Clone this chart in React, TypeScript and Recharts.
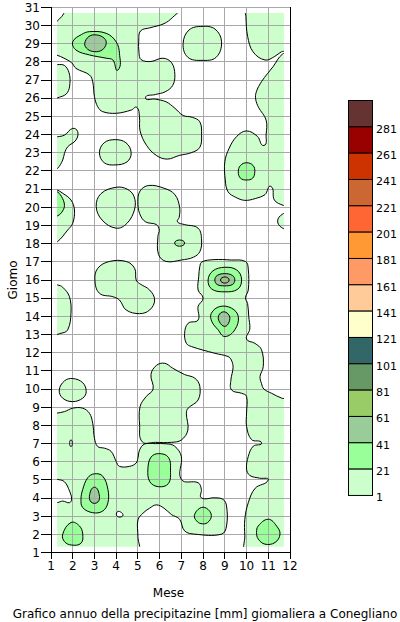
import React from 'react';
import { ScatterChart, Scatter, XAxis, YAxis, CartesianGrid, ReferenceArea, Legend } from 'recharts';

type Pt = [number, number];

// ---------- axes ----------
const MONTH_TICKS = [1, 2, 3, 4, 5, 6, 7, 8, 9, 10, 11, 12];
const DAY_TICKS = [1, 2, 3, 4, 5, 6, 7, 8, 9, 10, 11, 12, 13, 14, 15, 16, 17, 18, 19, 20, 21, 22, 23, 24, 25, 26, 27, 28, 29, 30, 31];
const RIGHT_TICKS = [5, 10, 15, 20, 25, 30];
const TOP_TICKS = [5, 10];

// ---------- colour scale (legend, top to bottom) ----------
const LEGEND_LEVELS = [281, 261, 241, 221, 201, 181, 161, 141, 121, 101, 81, 61, 41, 21, 1];
const LEGEND_COLORS = ['#663333', '#990000', '#cc3300', '#cc6633', '#ff6633', '#ff9933', '#ff9966', '#ffcc99', '#ffffcc', '#336666', '#669966', '#99cc66', '#99cc99', '#99ff99', '#ccffcc'];

// extent of the interpolated grid (month, day)
const GRID_MONTHS: [number, number] = [1.28, 11.72];
const GRID_DAYS: [number, number] = [1.33, 30.68];

// ---------- contour lines (month, day) ----------
const CONTOURS_1: Pt[][] = [
  [[1.1, 29.95], [1.5, 30.5], [1.85, 31.0], [4.0, 31.0], [6.95, 31.0], [6.6, 30.45], [6.2, 30.1], [5.55, 29.87], [5.12, 29.7], [5.04, 29.2], [5.05, 28.5], [5.15, 28.12], [5.6, 28.02], [6.15, 28.2], [6.55, 27.95], [6.7, 27.3], [6.6, 26.7], [6.25, 26.35], [5.8, 26.2], [5.35, 26.02], [5.8, 25.95], [6.3, 25.8], [6.7, 25.45], [7.08, 25.05], [7.5, 24.95], [7.85, 24.7], [7.93, 24.0], [7.85, 23.3], [7.45, 23.0], [6.9, 22.85], [6.35, 22.65], [5.85, 22.85], [5.4, 23.4], [5.1, 24.2], [5.07, 25.0], [4.95, 25.5], [4.7, 25.35], [4.0, 25.17], [3.38, 25.26], [3.15, 25.53], [3.0, 26.08], [2.92, 26.9], [2.77, 27.28], [2.15, 27.64], [1.95, 27.95], [1.6, 28.2], [1.26, 28.37], [1.0, 28.4], [1.0, 29.2]],
  [[1.0, 27.85], [1.3, 27.85], [1.62, 27.8], [1.83, 27.4], [1.87, 26.8], [1.75, 26.3], [1.45, 26.08], [1.0, 26.05]],
  [[7.95, 29.95], [8.55, 29.8], [8.85, 29.1], [8.6, 28.25], [7.95, 28.08], [7.3, 28.25], [7.08, 29.0], [7.35, 29.75]],
  [[11.0, 31.0], [9.98, 31.0], [9.97, 30.5], [10.05, 29.4], [10.3, 28.55], [10.85, 28.1], [11.3, 28.3], [11.6, 28.55], [12.0, 28.7], [12.0, 31.0]],
  [[12.0, 28.45], [11.65, 28.42], [11.23, 27.75], [10.7, 26.93], [10.45, 26.35], [10.42, 25.95], [10.55, 25.5], [10.9, 24.8], [10.9, 24.0], [10.8, 23.4], [10.5, 23.9], [10.0, 24.2], [9.55, 23.9], [9.2, 23.25], [9.0, 22.5], [9.02, 21.5], [9.15, 20.85], [9.5, 20.55], [9.92, 20.38], [10.4, 20.48], [10.85, 20.7], [11.12, 21.15], [11.28, 20.4], [11.7, 20.1], [12.0, 20.05]],
  [[12.0, 19.7], [11.65, 19.62], [11.43, 19.25], [11.62, 18.88], [12.0, 18.82]],
  [[1.0, 23.85], [1.3, 23.88], [1.62, 23.97], [2.0, 24.34], [2.23, 24.16], [2.15, 23.7], [1.77, 23.33], [1.62, 22.97], [1.54, 22.6], [1.3, 22.14], [1.0, 21.95]],
  [[1.0, 21.0], [1.25, 20.97], [1.54, 20.77], [1.92, 20.4], [2.08, 19.85], [2.0, 19.12], [1.77, 18.75], [1.3, 18.11], [1.0, 18.0]],
  [[3.95, 23.72], [4.45, 23.55], [4.69, 23.0], [4.5, 22.5], [3.95, 22.33], [3.45, 22.45], [3.23, 23.0], [3.45, 23.55]],
  [[4.0, 21.1], [4.5, 21.0], [4.82, 20.6], [4.85, 19.9], [4.5, 19.12], [4.0, 18.85], [3.35, 19.3], [3.08, 20.05], [3.3, 20.75]],
  [[5.5, 21.2], [6.2, 21.05], [6.7, 20.7], [6.92, 20.0], [6.9, 19.45], [6.82, 19.2], [7.15, 19.05], [7.77, 18.85], [7.93, 18.2], [7.85, 17.56], [7.55, 17.25], [7.0, 17.1], [6.3, 17.02], [5.95, 17.4], [5.92, 18.4], [5.98, 18.75], [5.85, 19.05], [5.35, 19.2], [5.08, 19.65], [5.0, 20.3], [5.1, 20.9]],
  [[3.02, 16.0], [3.15, 16.64], [3.69, 17.02], [4.46, 17.02], [4.85, 16.64], [4.92, 16.0], [5.08, 15.8], [5.54, 15.45], [5.77, 14.9], [5.54, 14.35], [5.08, 14.15], [4.46, 14.35], [4.15, 14.9], [3.85, 15.08], [3.23, 15.27]],
  [[1.0, 15.75], [1.3, 15.73], [1.54, 15.6], [1.85, 15.08], [1.92, 14.17], [1.77, 13.26], [1.46, 13.07], [1.0, 13.05]],
  [[7.85, 16.75], [7.95, 17.0], [8.5, 17.12], [9.3, 17.1], [9.95, 17.02], [10.08, 16.6], [10.08, 15.45], [9.95, 15.02], [10.05, 14.7], [10.1, 14.0], [10.15, 13.3], [10.0, 12.75], [10.38, 12.52], [10.69, 12.16], [10.77, 11.24], [10.62, 10.69], [10.69, 10.3], [10.8, 10.0], [11.15, 9.77], [11.62, 9.5], [12.0, 9.4], [12.0, 1.0], [10.0, 1.0], [9.92, 1.93], [9.92, 2.84], [10.08, 3.75], [10.4, 4.55], [11.0, 5.0], [10.6, 5.1], [10.15, 5.25], [10.0, 5.6], [10.08, 6.3], [10.31, 6.86], [10.69, 7.04], [10.23, 7.22], [10.0, 7.95], [10.0, 8.68], [10.0, 9.6], [9.77, 9.77], [9.31, 9.95], [9.28, 10.5], [9.38, 11.2], [9.3, 11.6], [9.15, 11.79], [8.54, 11.97], [7.46, 12.34], [7.23, 12.52], [7.15, 13.07], [7.31, 13.62], [7.77, 13.8], [7.77, 14.54], [8.0, 15.0], [7.77, 15.45], [7.8, 16.2]],
  [[1.38, 9.95], [1.62, 10.45], [2.0, 10.58], [2.46, 10.35], [2.62, 9.86], [2.46, 9.5], [2.0, 9.31], [1.54, 9.5]],
  [[5.2, 7.1], [5.08, 8.0], [5.1, 9.04], [5.38, 9.59], [5.7, 10.0], [5.6, 10.8], [5.85, 11.3], [6.23, 11.42], [6.6, 11.15], [7.15, 10.8], [7.62, 10.6], [7.85, 10.15], [7.77, 9.4], [7.31, 8.95], [7.23, 8.67], [7.3, 7.75], [7.0, 7.2], [6.54, 7.07], [5.8, 7.07]],
  [[1.0, 1.0], [1.0, 3.78], [1.3, 3.76], [1.54, 3.84], [1.85, 3.75], [1.95, 3.95], [1.85, 4.4], [1.62, 4.9], [1.3, 5.03], [1.0, 5.05], [1.0, 8.65], [1.23, 8.67], [1.62, 8.76], [2.0, 8.95], [2.46, 8.95], [2.77, 8.67], [2.92, 8.12], [3.0, 7.3], [3.15, 6.84], [3.46, 6.75], [3.77, 6.57], [4.0, 6.02], [4.15, 5.75], [4.62, 5.75], [4.92, 5.93], [5.0, 6.2], [5.08, 6.66], [5.31, 6.98], [5.8, 7.0], [6.3, 6.99], [6.69, 6.86], [7.0, 6.29], [7.0, 5.03], [7.77, 4.85], [7.92, 4.48], [7.92, 4.02], [8.54, 4.02], [8.92, 3.93], [9.08, 3.57], [9.08, 2.47], [8.85, 2.02], [7.62, 2.02], [7.15, 2.2], [6.92, 2.84], [6.54, 3.1], [6.2, 3.45], [5.85, 3.63], [5.54, 3.45], [5.23, 3.17], [5.0, 2.8], [5.0, 1.89], [4.97, 1.0]],
];

// dry islands inside the 1 mm area
const HOLES: Pt[][] = [
  [[1.92, 7.2], [1.98, 7.02], [1.92, 6.84], [1.86, 7.02]],
  [[4.05, 3.25], [4.25, 3.2], [4.3, 3.02], [4.05, 3.0]],
];

const CONTOURS_21: Pt[][] = [
  [[2.0, 29.1], [2.4, 29.5], [2.77, 29.66], [3.54, 29.57], [4.0, 29.1], [4.15, 28.47], [4.08, 27.55], [3.85, 28.1], [3.54, 28.2], [2.77, 28.38], [2.15, 28.65]],
  [[10.0, 22.45], [10.3, 22.3], [10.38, 21.95], [10.28, 21.6], [10.0, 21.5], [9.72, 21.6], [9.62, 21.95], [9.72, 22.3]],
  [[1.0, 20.9], [1.25, 20.88], [1.48, 20.6], [1.62, 20.1], [1.48, 19.7], [1.25, 19.5], [1.0, 19.45]],
  [[6.92, 18.2], [7.15, 18.03], [6.92, 17.86], [6.69, 18.03]],
  [[9.0, 16.7], [9.55, 16.55], [9.77, 16.05], [9.6, 15.5], [9.0, 15.35], [8.4, 15.5], [8.23, 16.0], [8.45, 16.5]],
  [[8.38, 14.17], [8.77, 14.54], [9.31, 14.45], [9.62, 13.99], [9.46, 13.26], [9.0, 12.89], [8.69, 13.26], [8.4, 13.72]],
  [[2.46, 4.48], [2.69, 5.12], [3.0, 5.34], [3.38, 5.21], [3.62, 4.48], [3.62, 3.75], [3.38, 3.29], [2.92, 3.2], [2.46, 3.48], [2.38, 3.93]],
  [[5.46, 5.6], [5.6, 6.25], [5.95, 6.45], [6.4, 6.25], [6.5, 5.5], [6.4, 4.8], [5.95, 4.63], [5.55, 4.9]],
  [[1.54, 2.02], [1.92, 2.66], [2.31, 2.47], [2.46, 2.02], [2.38, 1.52], [1.95, 1.42], [1.62, 1.61]],
  [[7.6, 3.05], [7.85, 3.45], [8.15, 3.45], [8.38, 3.05], [8.2, 2.65], [7.9, 2.6], [7.7, 2.75]],
  [[10.54, 2.47], [11.0, 2.84], [11.38, 2.47], [11.54, 2.02], [11.31, 1.56], [10.85, 1.47], [10.54, 1.75], [10.46, 2.11]],
];

const CONTOURS_41: Pt[][] = [
  [[2.55, 29.0], [2.75, 29.4], [3.1, 29.48], [3.45, 29.3], [3.54, 29.0], [3.35, 28.65], [3.0, 28.56], [2.68, 28.7]],
  [[9.0, 16.35], [9.35, 16.25], [9.46, 16.0], [9.35, 15.75], [9.0, 15.68], [8.65, 15.75], [8.54, 16.0], [8.65, 16.25]],
  [[8.95, 14.25], [9.2, 14.05], [9.2, 13.7], [9.0, 13.45], [8.75, 13.7], [8.72, 14.05]],
  [[3.0, 4.6], [3.22, 4.2], [3.15, 3.78], [2.85, 3.78], [2.78, 4.2]],
];

const CONTOURS_61: Pt[][] = [
  [[9.0, 16.17], [9.2, 16.0], [9.0, 15.83], [8.8, 16.0]],
];

const FONT = '"DejaVu Sans", Verdana, sans-serif';
const CLIP_ID = 'contour-grid-clip';

function closedSpline(pts: { x: number; y: number }[]): string {
  const n = pts.length;
  if (n < 3) return '';
  const tan = pts.map((_, i) => {
    const a = pts[(i - 1 + n) % n];
    const b = pts[(i + 1) % n];
    const dx = b.x - a.x;
    const dy = b.y - a.y;
    const len = Math.hypot(dx, dy) || 1;
    return { x: dx / len, y: dy / len };
  });
  const f = (v: number) => v.toFixed(2);
  let d = `M${f(pts[0].x)},${f(pts[0].y)}`;
  for (let i = 0; i < n; i++) {
    const p1 = pts[i];
    const p2 = pts[(i + 1) % n];
    const s = Math.hypot(p2.x - p1.x, p2.y - p1.y) * 0.36;
    const t1 = tan[i];
    const t2 = tan[(i + 1) % n];
    d += ` C${f(p1.x + t1.x * s)},${f(p1.y + t1.y * s)} ${f(p2.x - t2.x * s)},${f(p2.y - t2.y * s)} ${f(p2.x)},${f(p2.y)}`;
  }
  return d + 'Z';
}

const toRows = (poly: Pt[]) => poly.map(([m, d]) => ({ m, d }));
const noPoint = () => <g />;

const fillLine = (color: string) => (props: any) => (
  <path d={closedSpline(props.points || [])} fill={color} stroke="none" clipPath={`url(#${CLIP_ID})`} />
);
const outlineLine = (props: any) => (
  <path d={closedSpline(props.points || [])} fill="none" stroke="#000" strokeWidth={1} clipPath={`url(#${CLIP_ID})`} />
);

const LAYERS: { polys: Pt[][]; color: string }[] = [
  { polys: CONTOURS_1, color: LEGEND_COLORS[14] },
  { polys: HOLES, color: '#ffffff' },
  { polys: CONTOURS_21, color: LEGEND_COLORS[13] },
  { polys: CONTOURS_41, color: LEGEND_COLORS[12] },
  { polys: CONTOURS_61, color: LEGEND_COLORS[11] },
];

const ColorBar = () => {
  const boxH = 26.33;
  return (
    <svg width={60} height={420} style={{ display: 'block', fontFamily: FONT }}>
      {LEGEND_COLORS.map((c, i) => (
        <rect key={c} x={8.5} y={5.5 + i * boxH} width={24} height={boxH} fill={c} stroke="#000" strokeWidth={1} />
      ))}
      {LEGEND_LEVELS.map((v, i) => (
        <text key={v} x={36} y={5.5 + (i + 1) * boxH + 6} fontSize={11} fill="#000">
          {v}
        </text>
      ))}
    </svg>
  );
};

const xLabel = (props: any) => {
  const vb = props.viewBox || { x: 51, y: 552.7, width: 239, height: 30 };
  return (
    <g style={{ fontFamily: FONT }}>
      <text x={vb.x + vb.width / 2 - 2} y={vb.y + 44} textAnchor="middle" fontSize={12} fill="#000">Mese</text>
      <text x={205} y={618} textAnchor="middle" fontSize={12} fill="#000">Grafico annuo della precipitazine [mm] giomaliera a Conegliano</text>
    </g>
  );
};

const yLabel = (props: any) => {
  const vb = props.viewBox || { x: 0, y: 7.3, width: 51, height: 545.4 };
  const cx = 13;
  const cy = vb.y + vb.height / 2;
  return (
    <text x={cx} y={cy} transform={`rotate(-90 ${cx} ${cy})`} textAnchor="middle" dominantBaseline="central" fontSize={12} fill="#000" style={{ fontFamily: FONT }}>
      Giomo
    </text>
  );
};

export default function App() {
  return (
    <div style={{ position: 'absolute', left: 0, top: 0, width: 400, height: 622, fontFamily: FONT, background: '#fff' }}>
      <style>{`.recharts-cartesian-grid line, .recharts-cartesian-axis-line, .recharts-cartesian-axis-tick-line { shape-rendering: crispEdges; }`}</style>
      <ScatterChart width={400} height={622} margin={{ top: 7.3, right: 100, bottom: 39.3, left: 0 }}>
        <ReferenceArea
          x1={GRID_MONTHS[0]}
          x2={GRID_MONTHS[1]}
          y1={GRID_DAYS[0]}
          y2={GRID_DAYS[1]}
          ifOverflow="visible"
          shape={(p: any) => (
            <defs>
              <clipPath id={CLIP_ID}>
                <rect x={p.x} y={p.y} width={p.width} height={p.height} />
              </clipPath>
            </defs>
          )}
        />
        {LAYERS.map((layer, li) =>
          layer.polys.map((poly, pi) => (
            <Scatter
              key={`f-${li}-${pi}`}
              data={toRows(poly)}
              shape={noPoint}
              line={fillLine(layer.color)}
              legendType="none"
              isAnimationActive={false}
              {...({ zIndex: 100 } as any)}
            />
          ))
        )}
        <CartesianGrid stroke="#a8a8a8" strokeWidth={1} {...({ zIndex: 150 } as any)} />
        {LAYERS.map((layer, li) =>
          layer.polys.map((poly, pi) => (
            <Scatter
              key={`s-${li}-${pi}`}
              data={toRows(poly)}
              shape={noPoint}
              line={outlineLine}
              legendType="none"
              isAnimationActive={false}
              {...({ zIndex: 200 } as any)}
            />
          ))
        )}
        <XAxis
          dataKey="m"
          type="number"
          domain={[1, 12]}
          ticks={MONTH_TICKS}
          interval={0}
          allowDataOverflow
          height={30}
          tickSize={6}
          tickMargin={3}
          stroke="#000"
          tick={{ fill: '#000', fontSize: 12 }}
          label={{ content: xLabel }}
        />
        <XAxis
          xAxisId="t"
          orientation="top"
          type="number"
          domain={[1, 12]}
          ticks={TOP_TICKS}
          allowDataOverflow
          height={0}
          tickSize={7}
          tick={false}
          axisLine={false}
          stroke="#000"
        />
        <YAxis
          dataKey="d"
          type="number"
          domain={[1, 31]}
          ticks={DAY_TICKS}
          interval={0}
          allowDataOverflow
          width={51}
          tickSize={10}
          tickMargin={1}
          stroke="#000"
          tick={{ fill: '#000', fontSize: 12 }}
          label={{ content: yLabel }}
        />
        <YAxis
          yAxisId="r"
          orientation="right"
          type="number"
          domain={[1, 31]}
          ticks={RIGHT_TICKS}
          allowDataOverflow
          width={10}
          tickSize={8}
          tick={false}
          stroke="#000"
        />
        <Legend
          layout="horizontal"
          verticalAlign="middle"
          align="center"
          wrapperStyle={{ left: 340, top: 95, width: 60, height: 420 }}
          content={() => <ColorBar />}
        />
      </ScatterChart>
    </div>
  );
}
